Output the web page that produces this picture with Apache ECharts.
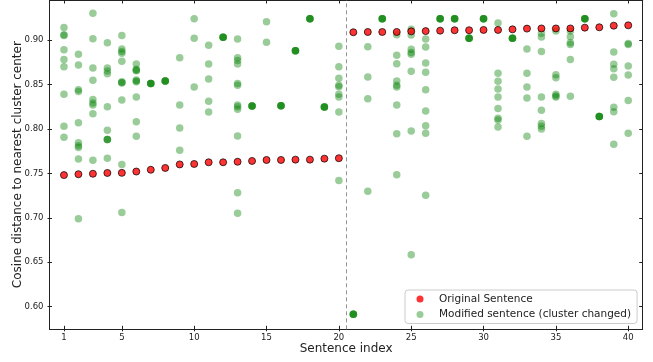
<!DOCTYPE html>
<html>
<head>
<meta charset="utf-8">
<script src="https://cdn.jsdelivr.net/npm/echarts@6/dist/echarts.min.js"></script>
<style>
  html, body { margin: 0; padding: 0; background: #fff; }
  #chart { width: 653px; height: 362px; }
</style>
</head>
<body>
<div id="chart"></div>
<script>
// sentence index 1..40
const sentences = [1, 2, 3, 4, 5, 6, 7, 8, 9, 10, 11, 12, 13, 14, 15, 16, 17, 18, 19, 20,
  21, 22, 23, 24, 25, 26, 27, 28, 29, 30, 31, 32, 33, 34, 35, 36, 37, 38, 39, 40];

// cosine distance of the original sentence
const originalDist = [0.748, 0.749, 0.7495, 0.7504, 0.7505, 0.752, 0.754, 0.756, 0.760, 0.7605,
  0.7624, 0.7624, 0.763, 0.7639, 0.765, 0.765, 0.7654, 0.7654, 0.7665, 0.767,
  0.9087, 0.909, 0.909, 0.909, 0.9097, 0.910, 0.9105, 0.911, 0.911, 0.9113,
  0.9113, 0.912, 0.9128, 0.913, 0.913, 0.913, 0.9139, 0.9143, 0.9161, 0.9165];

// modified sentences (cluster changed), one list per sentence; repeated values overlap
const modifiedDist = [
  [0.914, 0.906, 0.905, 0.889, 0.878, 0.870, 0.839, 0.803, 0.7905],
  [0.884, 0.872, 0.844, 0.842, 0.807, 0.7845, 0.781, 0.779, 0.766, 0.699],
  [0.930, 0.9015, 0.8685, 0.8546, 0.833, 0.829, 0.827, 0.817, 0.7646],
  [0.897, 0.8685, 0.865, 0.862, 0.825, 0.7984, 0.788, 0.788, 0.788, 0.767],
  [0.905, 0.890, 0.887, 0.885, 0.876, 0.853, 0.852, 0.852, 0.8325, 0.760, 0.706],
  [0.873, 0.867, 0.8655, 0.866, 0.855, 0.853, 0.854, 0.836, 0.808, 0.7916],
  [0.851, 0.851, 0.851, 0.851],
  [0.854, 0.854, 0.854, 0.854],
  [0.880, 0.827, 0.801, 0.776],
  [0.924, 0.902, 0.847],
  [0.894, 0.873, 0.856, 0.831, 0.819],
  [0.903, 0.903, 0.903, 0.903],
  [0.901, 0.880, 0.8768, 0.873, 0.851, 0.849, 0.827, 0.825, 0.822, 0.792, 0.728, 0.705],
  [0.8257, 0.8257, 0.8257, 0.8257],
  [0.9206, 0.8974],
  [0.826, 0.826, 0.826, 0.826],
  [0.888, 0.888, 0.888, 0.888],
  [0.924, 0.924, 0.924, 0.924],
  [0.8246, 0.8246, 0.8246, 0.8246],
  [0.893, 0.870, 0.857, 0.849, 0.8475, 0.839, 0.836, 0.819, 0.742],
  [0.5914, 0.5914, 0.5914, 0.5914],
  [0.8925, 0.8584, 0.834, 0.7298],
  [0.924, 0.924, 0.924, 0.924],
  [0.906, 0.8828, 0.8734, 0.854, 0.849, 0.847, 0.827, 0.7946, 0.7485],
  [0.912, 0.9055, 0.8895, 0.886, 0.884, 0.8648, 0.7976, 0.6585],
  [0.901, 0.892, 0.874, 0.8636, 0.844, 0.820, 0.8036, 0.795, 0.7253],
  [0.924, 0.924, 0.924, 0.924],
  [0.924, 0.924, 0.924, 0.924],
  [0.902, 0.902, 0.902, 0.902],
  [0.924, 0.924, 0.924, 0.924],
  [0.9191, 0.8625, 0.8535, 0.845, 0.836, 0.823, 0.812, 0.810, 0.802],
  [0.902, 0.902, 0.902, 0.902],
  [0.890, 0.8625, 0.847, 0.8348, 0.7916],
  [0.9075, 0.9034, 0.887, 0.836, 0.821, 0.806, 0.803, 0.800],
  [0.910, 0.861, 0.8576, 0.839, 0.837, 0.836],
  [0.910, 0.9037, 0.897, 0.895, 0.878, 0.8366],
  [0.924, 0.924, 0.924, 0.924],
  [0.814, 0.814, 0.814, 0.814],
  [0.9296, 0.8865, 0.8726, 0.8677, 0.858, 0.8243, 0.8194, 0.7826],
  [0.896, 0.895, 0.8707, 0.8606, 0.8318, 0.795]
];

const xTicks = [1, 5, 10, 15, 20, 25, 30, 35, 40];
const yTicks = [0.60, 0.65, 0.70, 0.75, 0.80, 0.85, 0.90];
const splitAt = 20.5;

const FONT = 'DejaVu Sans';
const INK = '#222';

const originalData = sentences.map((s, i) => [s, originalDist[i]]);
const modifiedData = [];
sentences.forEach((s, i) => {
  modifiedDist[i].forEach(v => modifiedData.push([s, v]));
});

const chart = echarts.init(document.getElementById('chart'));

// kind: 'main' = line + labels + outer ticks, 'inner' = inner half of the ticks only, 'mirror' = opposite side
function xAxisDef(pos, kind, tickLen) {
  const main = kind === 'main';
  return {
    type: 'value', position: pos, min: 0, max: 41,
    axisLine: {show: kind !== 'inner', onZero: false, lineStyle: {color: INK, width: 1}},
    axisTick: {show: true, inside: kind !== 'main', length: tickLen, customValues: xTicks, lineStyle: {color: INK}},
    axisLabel: {show: main, customValues: xTicks, margin: 4, fontSize: 8.5, color: INK, fontFamily: FONT},
    splitLine: {show: false},
    name: main ? 'Sentence index' : '',
    nameLocation: 'middle', nameGap: 13.5, nameMoveOverlap: false,
    nameTextStyle: {fontSize: 12, color: INK, fontFamily: FONT, verticalAlign: 'top'}
  };
}

function yAxisDef(pos, kind, tickLen) {
  const main = kind === 'main';
  return {
    type: 'value', position: pos, min: 0.5745, max: 0.945,
    axisLine: {show: kind !== 'inner', onZero: false, lineStyle: {color: INK, width: 1}},
    axisTick: {show: true, inside: kind !== 'main', length: tickLen, customValues: yTicks, lineStyle: {color: INK}},
    axisLabel: {show: main, customValues: yTicks, margin: 6, fontSize: 8.5, color: INK, fontFamily: FONT,
      formatter: v => v.toFixed(2)},
    splitLine: {show: false},
    name: main ? 'Cosine distance to nearest cluster center' : '',
    nameLocation: 'middle', nameGap: 26, nameMoveOverlap: false,
    nameTextStyle: {fontSize: 12, color: INK, fontFamily: FONT}
  };
}

const option = {
  animation: false,
  backgroundColor: '#fff',
  grid: {left: 49.5, right: 10.3, top: 0, bottom: 32.7, containLabel: false, outerBoundsMode: 'none'},
  xAxis: [xAxisDef('bottom', 'main', 2), xAxisDef('bottom', 'inner', 3.5), xAxisDef('top', 'mirror', 3.5)],
  yAxis: [yAxisDef('left', 'main', 2), yAxisDef('left', 'inner', 2.5), yAxisDef('right', 'mirror', 3.5)],
  legend: {
    orient: 'vertical',
    left: 405, top: 290,
    padding: [3.5, 6, 3.5, 11.5],
    itemWidth: 7, itemHeight: 7, itemGap: 4.5,
    icon: 'circle',
    backgroundColor: 'rgba(255,255,255,0.85)',
    borderColor: '#ccc', borderWidth: 1, borderRadius: 3,
    textStyle: {fontSize: 10.5, lineHeight: 11, color: INK, fontFamily: FONT, padding: [0, 0, 0, 10.5]},
    data: [
      {name: 'Original Sentence', itemStyle: {borderWidth: 0}},
      {name: 'Modified sentence (cluster changed)'}
    ]
  },
  series: [
    {
      name: 'Modified sentence (cluster changed)',
      type: 'scatter',
      data: modifiedData,
      symbolSize: 7.5,
      itemStyle: {color: 'rgba(0,128,0,0.5)'},
      z: 2,
      emphasis: {disabled: true}
    },
    {
      name: 'Original Sentence',
      type: 'scatter',
      data: originalData,
      symbolSize: 7,
      itemStyle: {color: '#ff0000', borderColor: '#000', borderWidth: 0.9},
      z: 3,
      emphasis: {disabled: true},
      markLine: {
        silent: true,
        symbol: ['none', 'none'],
        label: {show: false},
        lineStyle: {type: [4, 3], color: '#777', width: 0.8},
        data: [{xAxis: splitAt}]
      }
    }
  ]
};

chart.setOption(option);
</script>
</body>
</html>
